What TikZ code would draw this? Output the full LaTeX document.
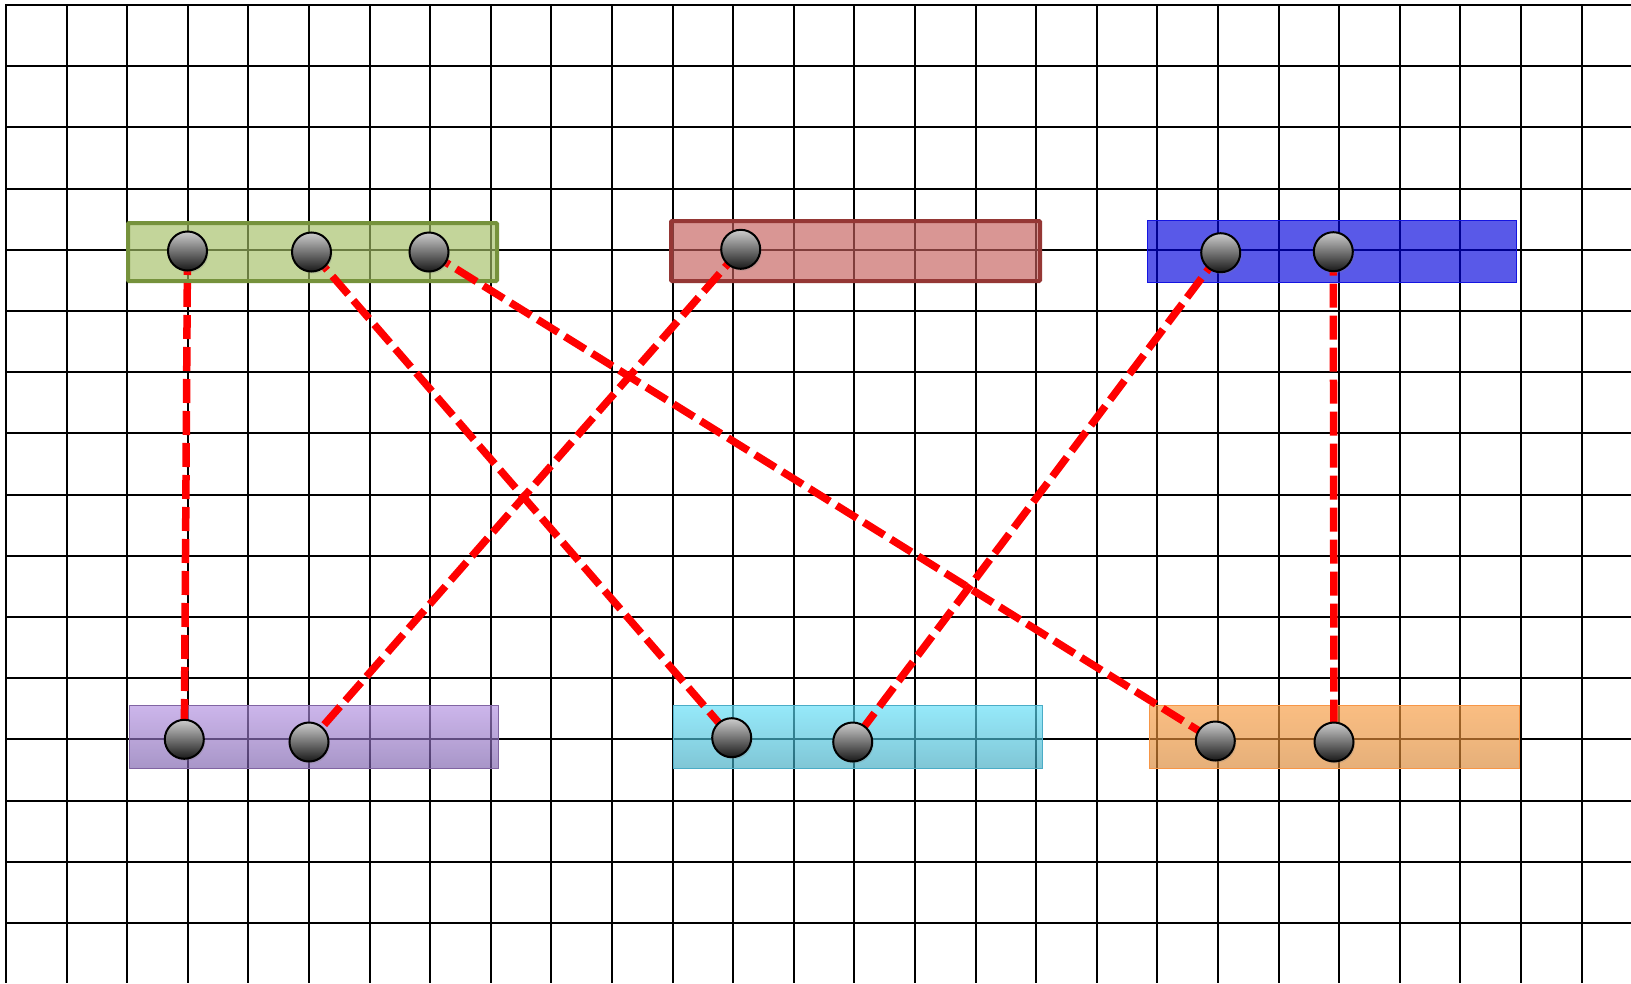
\documentclass[tikz,border=0pt]{standalone}
\usetikzlibrary{shadows}
\pgfdeclarelayer{background}
\pgfdeclarelayer{lines}
\pgfsetlayers{background,lines,main}
\definecolor{gfill}{RGB}{163,192,101}
\definecolor{gline}{RGB}{118,146,60}
\definecolor{rfill}{RGB}{198,94,91}
\definecolor{rline}{RGB}{149,55,53}
\definecolor{bfill}{RGB}{0,0,220}
\definecolor{bline}{RGB}{20,20,225}
\definecolor{ptop}{RGB}{178,143,225}
\definecolor{pbot}{RGB}{122,94,171}
\definecolor{pline}{RGB}{128,100,162}
\definecolor{ctop}{RGB}{94,222,248}
\definecolor{cbot}{RGB}{60,168,192}
\definecolor{cline}{RGB}{75,172,198}
\definecolor{otop}{RGB}{248,155,63}
\definecolor{obot}{RGB}{217,134,51}
\definecolor{oline}{RGB}{247,150,70}
\definecolor{balltop}{RGB}{205,205,205}
\definecolor{ballmid}{RGB}{140,140,140}
\definecolor{ballbot}{RGB}{25,25,25}
\tikzset{
  gridline/.style={black, line width=1.8pt},
  groupbox/.style={rectangle, inner sep=0pt, fill opacity=0.65},
  thickbox/.style={groupbox, line width=4pt, rounded corners=1pt},
  thinbox/.style={groupbox, line width=1.5pt},
  ball/.style={circle, minimum size=39pt, inner sep=0pt, draw=black, line width=2pt,
    top color=balltop, middle color=ballmid, bottom color=ballbot,
    drop shadow={opacity=0.25, shadow xshift=1.5pt, shadow yshift=-2pt}},
  link/.style={red, line width=7.5pt, dash pattern=on 24pt off 8pt},
}
\begin{document}
\begin{tikzpicture}[x=1pt,y=-1pt]
\useasboundingbox (0,0) rectangle (1631,983);
\begin{pgfonlayer}{background}
\fill[white] (0,0) rectangle (1631,983);
\foreach \k in {0,...,26} \draw[gridline] ({round(6+60.6*\k)},5) -- ({round(6+60.6*\k)},983);
\foreach \k in {0,...,15} \draw[gridline] (5.1,{round(5+61.2*\k)}) -- (1631,{round(5+61.2*\k)});
\node[thickbox, fill=gfill, draw=gline, draw opacity=1, minimum width=369pt, minimum height=58pt] (G) at (312.5,252) {};
\node[thickbox, fill=rfill, draw=rline, draw opacity=1, minimum width=369pt, minimum height=60pt] (R) at (855.5,251) {};
\node[thinbox, fill=bfill, draw=bline, draw opacity=1, minimum width=369pt, minimum height=62pt] (B) at (1332,251.5) {};
\node[thinbox, top color=ptop, bottom color=pbot, draw=pline, minimum width=369pt, minimum height=63pt] (P) at (314,737) {};
\node[thinbox, top color=ctop, bottom color=cbot, draw=cline, minimum width=369pt, minimum height=63pt] (C) at (858,737) {};
\node[thinbox, top color=otop, bottom color=obot, draw=oline, minimum width=370pt, minimum height=63pt] (O) at (1334.5,737) {};
\end{pgfonlayer}
\node[ball] (g1) at (187.5,251) {};
\node[ball] (g2) at (311.5,252) {};
\node[ball] (g3) at (429,252) {};
\node[ball] (r1) at (740.7,249.3) {};
\node[ball] (b1) at (1220.7,252.7) {};
\node[ball] (b2) at (1333.3,251.7) {};
\node[ball] (p1) at (184.3,739.3) {};
\node[ball] (p2) at (309,742) {};
\node[ball] (c1) at (731.7,737.7) {};
\node[ball] (c2) at (852.7,742) {};
\node[ball] (o1) at (1215.3,741) {};
\node[ball] (o2) at (1334,742) {};
\begin{pgfonlayer}{lines}
\draw[link] (g1.center) -- (p1.center);
\draw[link] (g2.center) -- (c1.center);
\draw[link] (g3.center) -- (o1.center);
\draw[link] (r1.center) -- (p2.center);
\draw[link] (b1.center) -- (c2.center);
\draw[link] (b2.center) -- (o2.center);
\end{pgfonlayer}
\end{tikzpicture}
\end{document}
